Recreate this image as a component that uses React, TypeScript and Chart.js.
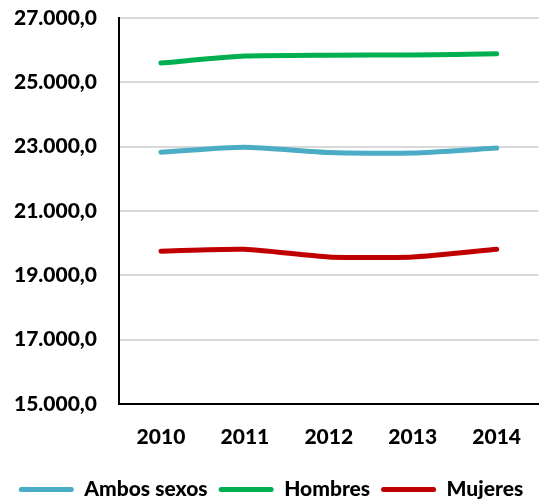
import React, { useEffect, useRef } from "react";
import { Chart, registerables } from "chart.js";

Chart.register(...registerables);

const categories = ["2010", "2011", "2012", "2013", "2014"];
const ambosSexos = [22830, 22980, 22815, 22800, 22955];
const hombres = [25600, 25815, 25845, 25850, 25890];
const mujeres = [19750, 19810, 19570, 19570, 19810];
const yMin = 15000;
const yMax = 27000;
const yStep = 2000;

const fmt = (v: number) => {
  const s = Math.round(v).toString().replace(/\B(?=(\d{3})+(?!\d))/g, ".");
  return s + ",0";
};

const FONT = "Lato, 'Liberation Sans', sans-serif";
const font = { family: FONT, size: 21, weight: 900 as any };

export default function App() {
  const ref = useRef<HTMLCanvasElement | null>(null);
  useEffect(() => {
    if (!ref.current) return;
    const mk = (label: string, data: number[], color: string) => ({
      label,
      data,
      borderColor: color,
      backgroundColor: color,
      borderWidth: 5,
      borderCapStyle: "round" as const,
      borderJoinStyle: "round" as const,
      pointRadius: 0,
      tension: 0.2,
    });
    const chart = new Chart(ref.current, {
      type: "line",
      data: {
        labels: categories,
        datasets: [
          mk("Ambos sexos", ambosSexos, "#4BACC6"),
          mk("Hombres", hombres, "#00B050"),
          mk("Mujeres", mujeres, "#C00000"),
        ],
      },
      options: {
        animation: false,
        responsive: false,
        maintainAspectRatio: false,
        layout: { padding: { top: 18, right: 0, left: 0, bottom: -8 } },
        plugins: {
          tooltip: { enabled: false },
          legend: {
            position: "bottom",
            labels: {
              boxWidth: 55,
              boxHeight: 5,
              useBorderRadius: true,
              borderRadius: 2.5,
              padding: 11,
              color: "#000",
              font,
              generateLabels: (c: any) =>
                Chart.defaults.plugins.legend.labels
                  .generateLabels(c)
                  .map((l: any) => ({ ...l, lineWidth: 0 })),
            },
          },
        },
        scales: {
          x: {
            offset: true,
            afterFit: (s: any) => {
              s.height = 64;
            },
            grid: { display: false, drawTicks: false },
            border: { color: "#000", width: 2 },
            ticks: {
              color: "#000",
              padding: 21,
              font,
            },
          },
          y: {
            min: yMin,
            max: yMax,
            afterFit: (s: any) => {
              s.width = 119;
              s.paddingTop = 12;
              s.paddingBottom = 12;
            },
            grid: { color: "#D9D9D9", lineWidth: 2, drawTicks: false },
            border: { color: "#000", width: 2 },
            ticks: {
              stepSize: yStep,
              color: "#000",
              padding: 22,
              font,
              callback: (v: any) => fmt(Number(v)),
            },
          },
        },
      },
    });
    return () => chart.destroy();
  }, []);
  return (
    <div style={{ position: "fixed", left: 0, top: 0, width: 542, height: 502, background: "#fff" }}>
      <canvas ref={ref} width={542} height={502} style={{ width: 542, height: 502 }} />
    </div>
  );
}
